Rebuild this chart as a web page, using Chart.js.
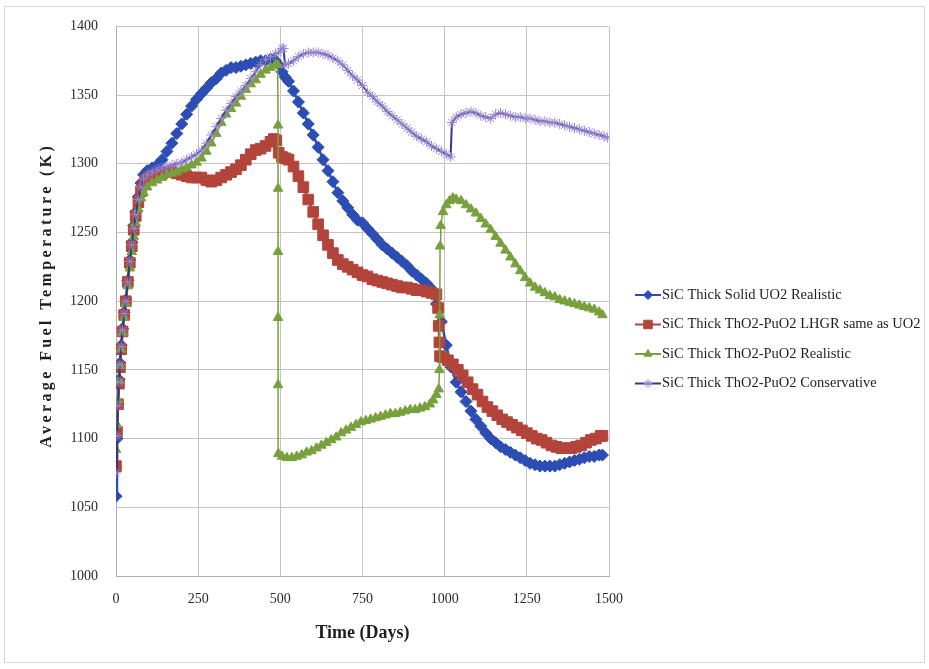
<!DOCTYPE html>
<html>
<head>
<meta charset="utf-8">
<script src="https://cdn.jsdelivr.net/npm/chart.js@4.4.0/dist/chart.umd.min.js"></script>
<style>
  html, body { margin: 0; padding: 0; background: #fff; }
  canvas { display: block; }
</style>
</head>
<body>
<canvas id="tempChart" width="929" height="669"></canvas>
<script>
// [day, average fuel temperature (K)]
const uo2Realistic = [
  [0,1058],[3,1100],[6,1125],[9,1143],[12,1155],[16,1168],[20,1180],[25,1192],[30,1201],[36,1215],
  [42,1230],[48,1243],[54,1255],[60,1265],[68,1276],[76,1286],[84,1292],[95,1295],[110,1297],[125,1299],
  [140,1303],[155,1309],[170,1315],[185,1322],[200,1329],[215,1336],[230,1342],[245,1347],[260,1351],[275,1355],
  [290,1359],[305,1362],[320,1366],[335,1368],[350,1370],[365,1370],[380,1371],[395,1372],[410,1373],[425,1374],
  [440,1375],[455,1375],[470,1376],[485,1375],[495,1372],[505,1367],[515,1363],[525,1360],[540,1353],[555,1345],
  [570,1337],[585,1329],[600,1321],[615,1312],[630,1303],[645,1295],[660,1287],[675,1279],[690,1273],[705,1268],
  [720,1263],[735,1259],[750,1257],[765,1253],[780,1249],[795,1245],[810,1241],[825,1238],[840,1235],[855,1232],
  [870,1229],[885,1226],[900,1222],[915,1219],[930,1216],[945,1213],[960,1209],[975,1198],[990,1185],[1005,1168],
  [1020,1152],[1035,1141],[1050,1134],[1065,1127],[1080,1120],[1095,1114],[1110,1109],[1125,1104],[1140,1100],[1155,1097],
  [1170,1094],[1185,1092],[1200,1090],[1215,1088],[1230,1086],[1245,1084],[1260,1082],[1275,1081],[1290,1080],[1305,1080],
  [1320,1080],[1335,1080],[1350,1081],[1365,1082],[1380,1083],[1395,1084],[1410,1085],[1425,1086],[1440,1087],[1455,1087],
  [1470,1088],[1480,1088]
];

const thpuLhgr = [
  [0,1080],[3,1105],[6,1125],[9,1140],[12,1152],[16,1165],[20,1178],[25,1190],[30,1200],[36,1214],
  [42,1228],[48,1240],[54,1252],[60,1262],[68,1272],[76,1280],[84,1285],[95,1289],[110,1291],[125,1292],
  [140,1293],[155,1294],[170,1294],[185,1293],[200,1292],[215,1291],[230,1290],[245,1290],[260,1290],[275,1288],
  [290,1287],[305,1288],[320,1290],[335,1292],[350,1294],[365,1296],[380,1299],[395,1303],[410,1307],[425,1310],
  [440,1311],[455,1313],[470,1316],[480,1318],[488,1317],[495,1308],[505,1305],[515,1304],[525,1303],[540,1298],
  [555,1291],[570,1283],[585,1274],[600,1265],[615,1256],[630,1248],[645,1241],[660,1235],[675,1230],[690,1227],
  [705,1225],[720,1223],[735,1221],[750,1219],[765,1218],[780,1216],[795,1215],[810,1214],[825,1213],[840,1212],
  [855,1211],[870,1210],[885,1210],[900,1209],[915,1208],[930,1208],[945,1207],[960,1206],[975,1205],[980,1195],
  [982,1182],[984,1170],[986,1160],[995,1159],[1010,1157],[1025,1154],[1040,1150],[1055,1146],[1070,1141],[1085,1136],
  [1100,1132],[1115,1127],[1130,1123],[1145,1120],[1160,1117],[1175,1114],[1190,1112],[1205,1110],[1220,1108],[1235,1106],
  [1250,1104],[1265,1102],[1280,1100],[1295,1099],[1310,1097],[1325,1095],[1340,1094],[1355,1093],[1370,1093],[1385,1093],
  [1400,1094],[1415,1095],[1430,1097],[1445,1099],[1460,1100],[1475,1102],[1480,1102]
];

const thpuRealistic = [
  [0,1092],[3,1110],[6,1128],[9,1142],[12,1153],[16,1165],[20,1177],[25,1188],[30,1198],[36,1211],
  [42,1224],[48,1236],[54,1247],[60,1257],[68,1267],[76,1275],[84,1279],[95,1283],[110,1286],[125,1288],
  [140,1290],[155,1292],[170,1293],[185,1294],[200,1296],[215,1297],[230,1299],[245,1301],[260,1304],[275,1309],
  [290,1315],[305,1322],[320,1330],[335,1336],[350,1340],[365,1344],[380,1349],[395,1354],[410,1358],[425,1361],
  [440,1365],[455,1368],[470,1370],[485,1372],[492,1372],[493,1328],[493,1282],[493,1236],[493,1188],[493,1139],
  [494,1089],[505,1087],[520,1086],[535,1086],[550,1087],[565,1088],[580,1090],[595,1091],[610,1093],[625,1095],
  [640,1097],[655,1099],[670,1101],[685,1104],[700,1106],[715,1108],[730,1110],[745,1112],[760,1113],[775,1114],
  [790,1115],[805,1116],[820,1117],[835,1118],[850,1118],[865,1119],[880,1120],[895,1121],[910,1121],[925,1122],
  [940,1123],[955,1125],[965,1128],[975,1132],[982,1136],[984,1150],[985,1190],[986,1240],[988,1255],[995,1265],
  [1005,1270],[1015,1273],[1025,1275],[1035,1274],[1050,1273],[1065,1270],[1080,1267],[1095,1264],[1110,1260],[1125,1256],
  [1140,1252],[1155,1247],[1170,1242],[1185,1237],[1200,1232],[1215,1227],[1230,1222],[1245,1217],[1260,1213],[1275,1210],
  [1290,1208],[1305,1206],[1320,1204],[1335,1203],[1350,1201],[1365,1200],[1380,1199],[1395,1198],[1410,1197],[1425,1196],
  [1440,1195],[1455,1194],[1470,1192],[1480,1190]
];

const thpuConservative = [
  [0,1075],[3,1102],[6,1124],[9,1141],[12,1154],[16,1167],[20,1179],[25,1191],[30,1200],[36,1214],
  [42,1229],[48,1241],[54,1253],[60,1263],[68,1274],[76,1283],[84,1289],[95,1292],[110,1294],[125,1296],
  [140,1297],[155,1298],[170,1299],[185,1300],[200,1301],[215,1303],[230,1305],[245,1307],[260,1310],[275,1315],
  [290,1321],[305,1327],[320,1333],[335,1339],[350,1344],[365,1349],[380,1353],[395,1357],[410,1362],[425,1367],
  [440,1372],[455,1376],[470,1378],[485,1380],[495,1381],[505,1384],[510,1384],[514,1372],[525,1373],[540,1375],
  [555,1378],[570,1380],[585,1381],[600,1381],[615,1381],[630,1380],[645,1379],[660,1377],[675,1375],[690,1372],
  [705,1368],[720,1364],[735,1361],[750,1357],[765,1352],[780,1349],[795,1345],[810,1342],[825,1338],[840,1335],
  [855,1332],[870,1329],[885,1326],[900,1323],[915,1320],[930,1318],[945,1316],[960,1313],[975,1311],[990,1309],
  [1005,1307],[1018,1305],[1022,1330],[1035,1334],[1050,1336],[1065,1337],[1080,1338],[1095,1337],[1110,1335],[1125,1334],
  [1140,1333],[1155,1336],[1170,1337],[1185,1336],[1200,1335],[1215,1334],[1230,1334],[1245,1333],[1260,1333],[1275,1332],
  [1290,1331],[1305,1331],[1320,1330],[1335,1330],[1350,1329],[1365,1328],[1380,1327],[1395,1326],[1410,1325],[1425,1324],
  [1440,1323],[1455,1322],[1470,1321],[1485,1320],[1495,1319]
];

const seriesLabels = [
  'SiC Thick Solid UO2 Realistic',
  'SiC Thick ThO2-PuO2 LHGR same as UO2',
  'SiC Thick ThO2-PuO2 Realistic',
  'SiC Thick ThO2-PuO2 Conservative'
];

const xTicks = [0, 250, 500, 750, 1000, 1250, 1500];
const yTicks = [1000, 1050, 1100, 1150, 1200, 1250, 1300, 1350, 1400];
const xTitle = 'Time (Days)';
const yTitle = 'Average Fuel Temperature (K)';

const serif = '"Liberation Serif", "Times New Roman", serif';
const toPts = arr => arr.map(([x, y]) => ({ x, y }));

// white page with a thin frame around it
const framePlugin = {
  id: 'frame',
  beforeDraw(chart) {
    const c = chart.ctx;
    c.save();
    c.fillStyle = '#fff';
    c.fillRect(0, 0, chart.width, chart.height);
    c.strokeStyle = '#d6d6d6';
    c.lineWidth = 1;
    c.strokeRect(4.5, 6.5, 920, 656);
    c.restore();
  }
};

// spaced-out vertical axis title
const yTitlePlugin = {
  id: 'yTitle',
  afterDraw(chart) {
    const c = chart.ctx, a = chart.chartArea;
    c.save();
    c.translate(47, (a.top + a.bottom) / 2 - 6);
    c.rotate(-Math.PI / 2);
    c.font = 'bold 16px ' + serif;
    c.letterSpacing = '3.4px';
    c.fillStyle = '#1e1e1e';
    c.textAlign = 'center';
    c.textBaseline = 'middle';
    c.fillText(yTitle, 0, 0);
    c.restore();
  }
};

// legend on the right: short line, marker, label
const sideLegend = {
  id: 'sideLegend',
  afterDraw(chart) {
    const c = chart.ctx;
    chart.data.datasets.forEach((ds, i) => {
      const y = 295 + i * 29.5;
      c.save();
      c.strokeStyle = ds.borderColor;
      c.lineWidth = 2;
      c.beginPath();
      c.moveTo(635, y);
      c.lineTo(661, y);
      c.stroke();
      c.fillStyle = ds.pointBackgroundColor;
      c.strokeStyle = ds.pointBorderColor;
      c.lineWidth = 1;
      Chart.helpers.drawPoint(c, {
        pointStyle: ds.pointStyle, radius: ds.legendRadius, rotation: 0, borderWidth: 1
      }, 648, y);
      c.fillStyle = '#1e1e1e';
      c.font = '14.5px ' + serif;
      c.textBaseline = 'middle';
      c.fillText(ds.label, 662, y);
      c.restore();
    });
  }
};

new Chart(document.getElementById('tempChart'), {
  type: 'scatter',
  data: {
    datasets: [
      {
        label: seriesLabels[0],
        data: toPts(uo2Realistic),
        showLine: true,
        borderColor: '#2c4db3',
        borderWidth: 2.5,
        pointStyle: 'rectRot',
        pointRadius: 6,
        legendRadius: 4.5,
        pointBackgroundColor: '#2c4db3',
        pointBorderColor: '#2c4db3',
        pointBorderWidth: 1,
        order: 4
      },
      {
        label: seriesLabels[1],
        data: toPts(thpuLhgr),
        showLine: true,
        borderColor: '#b3443b',
        borderWidth: 2.5,
        pointStyle: 'rect',
        pointRadius: 7.5,
        legendRadius: 6,
        pointBackgroundColor: '#b3443b',
        pointBorderColor: '#b3443b',
        pointBorderWidth: 1,
        order: 3
      },
      {
        label: seriesLabels[2],
        data: toPts(thpuRealistic),
        showLine: true,
        borderColor: '#78a03c',
        borderWidth: 1.5,
        pointStyle: 'triangle',
        pointRadius: 5.5,
        legendRadius: 4.5,
        pointBackgroundColor: '#78a03c',
        pointBorderColor: '#78a03c',
        pointBorderWidth: 1,
        order: 2
      },
      {
        label: seriesLabels[3],
        data: toPts(thpuConservative),
        showLine: true,
        borderColor: '#353785',
        borderWidth: 2,
        pointStyle: 'star',
        pointRadius: 5,
        legendRadius: 4.5,
        pointBackgroundColor: '#9985d2',
        pointBorderColor: '#9985d2',
        pointBorderWidth: 1,
        order: 1
      }
    ]
  },
  options: {
    responsive: false,
    animation: false,
    devicePixelRatio: 1,
    layout: { padding: { left: 37, right: 320, top: 25, bottom: 25 } },
    plugins: {
      legend: { display: false },
      tooltip: { enabled: false }
    },
    scales: {
      x: {
        type: 'linear',
        min: xTicks[0],
        max: xTicks[xTicks.length - 1],
        afterBuildTicks: s => { s.ticks = xTicks.map(v => ({ value: v })); },
        afterFit: s => { s.height = 68; },
        ticks: {
          padding: 15, color: '#2a2a2a', font: { family: serif, size: 14 },
          callback: v => String(v)
        },
        grid: { color: '#c4c4c4', drawTicks: false },
        border: { color: '#b0b0b0' },
        title: {
          display: true,
          text: xTitle,
          color: '#1e1e1e',
          padding: 0,
          font: { family: serif, size: 18, weight: 'bold' }
        }
      },
      y: {
        min: yTicks[0],
        max: yTicks[yTicks.length - 1],
        afterBuildTicks: s => { s.ticks = yTicks.map(v => ({ value: v })); },
        afterFit: s => { s.width = 79; },
        ticks: {
          padding: 18, color: '#2a2a2a', font: { family: serif, size: 14 },
          callback: v => String(v)
        },
        grid: { color: '#c4c4c4', drawTicks: false },
        border: { color: '#b0b0b0' }
      }
    }
  },
  plugins: [framePlugin, yTitlePlugin, sideLegend]
});
</script>
</body>
</html>
